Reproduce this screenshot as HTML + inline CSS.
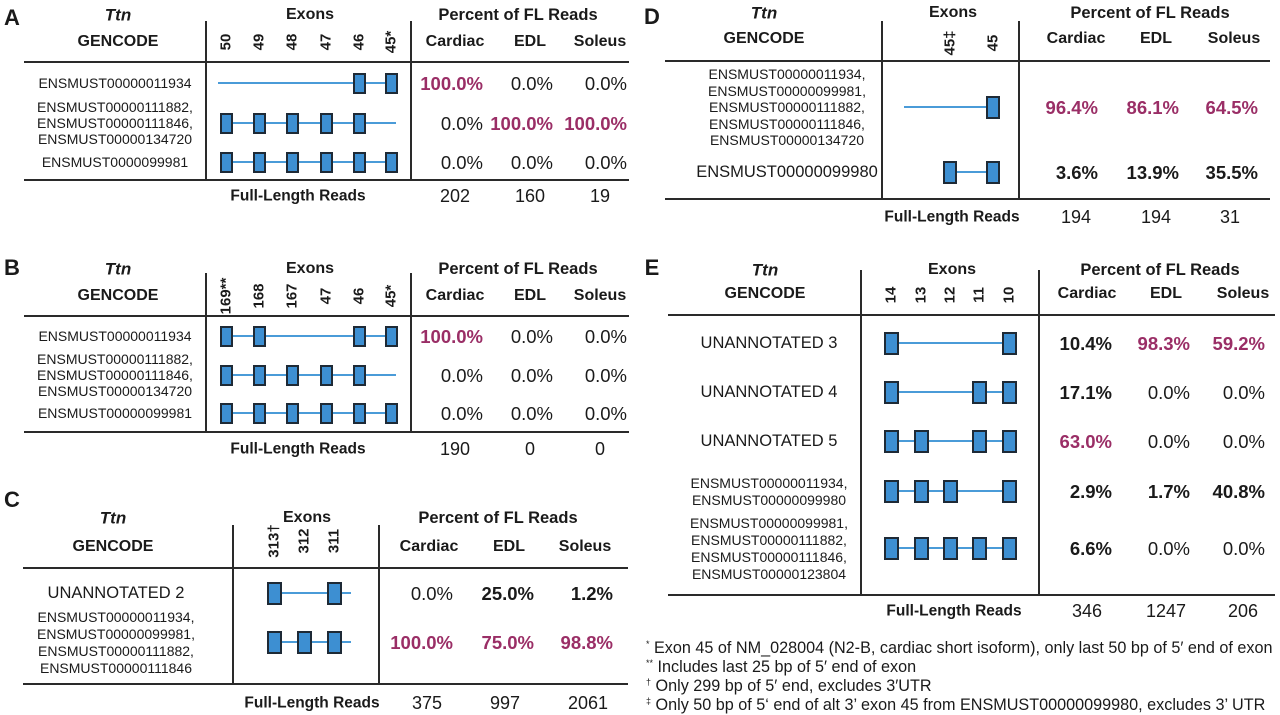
<!DOCTYPE html>
<html><head><meta charset="utf-8">
<style>
html,body{margin:0;padding:0;background:#fff;font-family:"Liberation Sans",Arial,sans-serif;}
#root{position:relative;width:1280px;height:715px;overflow:hidden;font-family:"Liberation Sans",Arial,sans-serif;color:#1a1a1a;}
.t{position:absolute;white-space:nowrap;line-height:1;}
.c{transform:translate(-50%,-50%);text-align:center;}
.r{transform:translate(-100%,-50%);text-align:right;}
.l{transform:translate(0,-50%);}
.rot{transform:translate(-50%,-50%) rotate(-90deg);}
.hl{position:absolute;height:2px;background:#2a2a2a;}
.vl{position:absolute;width:1.5px;background:#2a2a2a;}
.ln{position:absolute;height:2px;background:#4a9bd8;}
.ex{position:absolute;background:#3d8fd2;border:2px solid #1e2a36;box-sizing:border-box;}
.b{font-weight:bold;}
.mag{color:#9a2e66;font-weight:bold;}
.fn{position:absolute;left:646px;font-family:"Liberation Sans",Arial,sans-serif;font-size:16.2px;white-space:nowrap;line-height:1;transform:translateY(-50%);color:#1a1a1a;}
.fn sup{font-size:9px;vertical-align:6px;}
</style></head>
<body>
<div id="root">
<div class="fn" style="top:648px"><sup>*</sup> Exon 45 of NM_028004 (N2-B, cardiac short isoform), only last 50 bp of 5′ end of exon</div>
<div class="fn" style="top:667px"><sup>**</sup> Includes last 25 bp of 5′ end of exon</div>
<div class="fn" style="top:686px"><sup>†</sup> Only 299 bp of 5′ end, excludes 3′UTR</div>
<div class="fn" style="top:705px"><sup>‡</sup> Only 50 bp of 5‘ end of alt 3’ exon 45 from ENSMUST00000099980, excludes 3’ UTR</div>
</div>
<script>
// ---- data ----
const tissues = ["Cardiac","EDL","Soleus"];
const exonsA = ["50","49","48","47","46","45*"];
const exonsB = ["169**","168","167","47","46","45*"];
const exonsC = ["313\u2020","312","311"];
const exonsD = ["45\u2021","45"];
const exonsE = ["14","13","12","11","10"];
const pctA = [["100.0%","0.0%","0.0%"],["0.0%","100.0%","100.0%"],["0.0%","0.0%","0.0%"]];
const styleA = [["m","n","n"],["n","m","m"],["n","n","n"]];
const readsA = ["202","160","19"];
const pctB = [["100.0%","0.0%","0.0%"],["0.0%","0.0%","0.0%"],["0.0%","0.0%","0.0%"]];
const styleB = [["m","n","n"],["n","n","n"],["n","n","n"]];
const readsB = ["190","0","0"];
const pctC = [["0.0%","25.0%","1.2%"],["100.0%","75.0%","98.8%"]];
const styleC = [["n","b","b"],["m","m","m"]];
const readsC = ["375","997","2061"];
const pctD = [["96.4%","86.1%","64.5%"],["3.6%","13.9%","35.5%"]];
const styleD = [["m","m","m"],["b","b","b"]];
const readsD = ["194","194","31"];
const pctE = [["10.4%","98.3%","59.2%"],["17.1%","0.0%","0.0%"],["63.0%","0.0%","0.0%"],["2.9%","1.7%","40.8%"],["6.6%","0.0%","0.0%"]];
const styleE = [["b","m","m"],["b","n","n"],["m","n","n"],["b","b","b"],["b","n","n"]];
const readsE = ["346","1247","206"];

const root = document.getElementById('root');
function T(x,y,str,cls,size,name){
  const el=document.createElement('div');
  el.className='t '+cls;
  el.style.left=x+'px';el.style.top=y+'px';el.style.fontSize=size+'px';
  el.textContent=str;
  
  
  root.appendChild(el);return el;
}
function H(x1,x2,y,name){
  const el=document.createElement('div');el.className='hl';
  el.style.left=x1+'px';el.style.width=(x2-x1)+'px';el.style.top=(y-1)+'px';
  
  
  root.appendChild(el);
}
function V(x,y1,y2,name){
  const el=document.createElement('div');el.className='vl';
  el.style.left=x+'px';el.style.top=y1+'px';el.style.height=(y2-y1)+'px';
  
  
  root.appendChild(el);
}
function panel(p){
  T(p.letter[1],p.letter[2],p.letter[0],'c b',22,'panel-label');
  T(p.ttn[0],p.ttn[1],'Ttn','c b',17,'gene-title').style.fontStyle='italic';
  T(p.ttn[0],p.gy,'GENCODE','c b',16,'gencode-header');
  T(p.exHead,p.ttn[1],'Exons','c b',16,'exons-header');
  T(p.pctHead,p.ttn[1],'Percent of FL Reads','c b',16.5,'percent-header');
  tissues.forEach((t,i)=>T(p.colC[i],p.gy,t,'c b',16,'tissue-header-'+t.toLowerCase()));
  p.exLabels.forEach((e,i)=>T(p.exX[i],p.ely,e,'rot b',15,'exon-label-'+i));
  V(p.vx[0],p.vtop,p.bl[2],'divider-left');
  V(p.vx[1],p.vtop,p.bl[2],'divider-right');
  H(p.hl[0],p.hl[1],p.hl[2],'header-rule');
  H(p.bl[0],p.bl[1],p.bl[2],'bottom-rule');
  p.rows.forEach((row,ri)=>{
    const n=row.lab.length, lh=row.lh||16;
    row.lab.forEach((s,k)=>T(p.labX,row.y+(k-(n-1)/2)*lh,s,'c',row.fs,'transcript-label'));
    const ln=document.createElement('div');ln.className='ln';
    ln.style.left=row.line[0]+'px';ln.style.width=(row.line[1]-row.line[0])+'px';ln.style.top=(row.y-1)+'px';
    
    
    root.appendChild(ln);
    row.ex.forEach(ei=>{
      const b=document.createElement('div');b.className='ex';
      b.style.left=(p.exX[ei]-p.bw/2)+'px';b.style.top=(row.y-p.bh/2)+'px';
      b.style.width=p.bw+'px';b.style.height=p.bh+'px';
      
      
      root.appendChild(b);
    });
    p.pct[ri].forEach((v,ci)=>{
      const s=p.sty[ri][ci];
      T(p.valR[ci],row.y+1,v,'r '+(s==='m'?'mag':s==='b'?'b':''),18.5,'percent-'+tissues[ci].toLowerCase());
    });
  });
  T(p.flLab,p.fly,'Full-Length Reads','c b',15.5,'full-length-reads-label');
  p.reads.forEach((v,i)=>T(p.flC[i],p.fly,v,'c',18,'reads-'+tissues[i].toLowerCase()));
}
const LA=["ENSMUST00000111882,","ENSMUST00000111846,","ENSMUST00000134720"];
const xA=[226,259,292,326,359,391];
panel({letter:['A',12,18],ttn:[118,15],gy:42,exHead:310,pctHead:518,colC:[455,530,600],exLabels:exonsA,exX:xA,ely:42,
 vx:[205,410],vtop:21,hl:[24,629,62],bl:[24,629,180],labX:115,bw:13,bh:21,valR:[483,553,627],
 rows:[{y:83,lab:["ENSMUST00000011934"],fs:14,line:[218,391],ex:[4,5]},
       {y:123,lab:LA,fs:14,lh:16,line:[226,396],ex:[0,1,2,3,4]},
       {y:162,lab:["ENSMUST0000099981"],fs:14,line:[226,391],ex:[0,1,2,3,4,5]}],
 pct:pctA,sty:styleA,reads:readsA,fly:196,flLab:298,flC:[455,530,600]});
panel({letter:['B',12,268],ttn:[118,269],gy:296,exHead:310,pctHead:518,colC:[455,530,600],exLabels:exonsB,exX:xA,ely:296,
 vx:[205,410],vtop:273,hl:[24,629,316],bl:[24,629,432],labX:115,bw:13,bh:21,valR:[483,553,627],
 rows:[{y:336,lab:["ENSMUST00000011934"],fs:14,line:[226,391],ex:[0,1,4,5]},
       {y:375,lab:LA,fs:14,lh:16,line:[226,396],ex:[0,1,2,3,4]},
       {y:413,lab:["ENSMUST00000099981"],fs:14,line:[226,391],ex:[0,1,2,3,4,5]}],
 pct:pctB,sty:styleB,reads:readsB,fly:449,flLab:298,flC:[455,530,600]});
panel({letter:['C',12,500],ttn:[113,518],gy:547,exHead:307,pctHead:498,colC:[429,509,585],exLabels:exonsC,exX:[274,304,334],ely:541,
 vx:[232,378],vtop:525,hl:[23,628,568],bl:[23,628,684],labX:116,bw:15,bh:23,valR:[453,534,613],
 rows:[{y:593,lab:["UNANNOTATED 2"],fs:16.5,line:[274,351],ex:[0,2]},
       {y:642,lab:["ENSMUST00000011934,","ENSMUST00000099981,","ENSMUST00000111882,","ENSMUST00000111846"],fs:14,lh:17,line:[274,351],ex:[0,1,2]}],
 pct:pctC,sty:styleC,reads:readsC,fly:703,flLab:312,flC:[427,505,588]});
panel({letter:['D',652,17],ttn:[764,13],gy:39,exHead:953,pctHead:1150,colC:[1076,1156,1234],exLabels:exonsD,exX:[950,993],ely:43,
 vx:[881,1018],vtop:21,hl:[665,1270,61],bl:[665,1270,199],labX:787,bw:14,bh:23,valR:[1098,1179,1258],
 rows:[{y:107,lab:["ENSMUST00000011934,","ENSMUST00000099981,","ENSMUST00000111882,","ENSMUST00000111846,","ENSMUST00000134720"],fs:14,lh:16.5,line:[904,993],ex:[1]},
       {y:172,lab:["ENSMUST00000099980"],fs:16.5,line:[950,993],ex:[0,1]}],
 pct:pctD,sty:styleD,reads:readsD,fly:217,flLab:952,flC:[1076,1156,1230]});
panel({letter:['E',652,268],ttn:[765,270],gy:294,exHead:952,pctHead:1160,colC:[1087,1166,1243],exLabels:exonsE,exX:[891,921,950,979,1009],ely:295,
 vx:[860,1038],vtop:270,hl:[668,1275,315],bl:[668,1275,595],labX:769,bw:15,bh:23,valR:[1112,1190,1265],
 rows:[{y:343,lab:["UNANNOTATED 3"],fs:16.5,line:[891,1009],ex:[0,4]},
       {y:392,lab:["UNANNOTATED 4"],fs:16.5,line:[891,1009],ex:[0,3,4]},
       {y:441,lab:["UNANNOTATED 5"],fs:16.5,line:[891,1009],ex:[0,1,3,4]},
       {y:491,lab:["ENSMUST00000011934,","ENSMUST00000099980"],fs:14,lh:17,line:[891,1009],ex:[0,1,2,4]},
       {y:548,lab:["ENSMUST00000099981,","ENSMUST00000111882,","ENSMUST00000111846,","ENSMUST00000123804"],fs:14,lh:17,line:[891,1009],ex:[0,1,2,3,4]}],
 pct:pctE,sty:styleE,reads:readsE,fly:611,flLab:954,flC:[1087,1166,1243]});
</script>
</body></html>
